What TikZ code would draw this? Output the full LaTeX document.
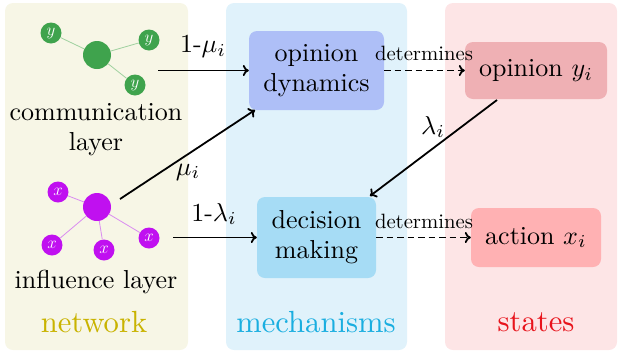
\RequirePackage{fix-cm}
\documentclass[tikz,border=0pt]{standalone}
\usetikzlibrary{arrows.meta}
\definecolor{netbg}{HTML}{F7F6E6}
\definecolor{mechbg}{HTML}{E0F2FB}
\definecolor{statebg}{HTML}{FDE5E6}
\definecolor{odyn}{HTML}{AEBFF7}
\definecolor{dmak}{HTML}{A6DCF5}
\definecolor{opin}{HTML}{EFB0B4}
\definecolor{actn}{HTML}{FFB1B3}
\definecolor{grn}{HTML}{3FA34D}
\definecolor{grnl}{HTML}{9FD19F}
\definecolor{mag}{HTML}{C010F0}
\definecolor{magl}{HTML}{DA8CF0}
\definecolor{nettxt}{HTML}{C9B300}
\definecolor{mechtxt}{HTML}{1AAEE0}
\definecolor{statetxt}{HTML}{E8141C}
\begin{document}
\begin{tikzpicture}[x=1pt,y=-1pt,
  panel/.style={rounded corners=8pt},
  box/.style={rounded corners=8pt, inner sep=0pt},
  txt/.style={align=center, inner sep=0pt, font=\fontsize{10}{11.5}\selectfont, scale=2.6, transform shape},
  title/.style={inner sep=0pt, font=\fontsize{10}{12}\selectfont, scale=3.06, transform shape},
  small/.style={inner sep=0pt, font=\fontsize{10}{12}\selectfont, scale=2.07, transform shape},
  arr/.style={line width=1.8pt, -{To[length=6pt,width=11pt]}},
  darr/.style={arr, dash pattern=on 6.5pt off 4pt},
  hub/.style={circle, minimum size=28pt, inner sep=0pt},
  leaf/.style={circle, minimum size=21pt, inner sep=0pt, text=white, font=\fontsize{17}{19}\selectfont},
]
\useasboundingbox (0,0) rectangle (621,354);
% panels
\fill[netbg, panel] (5,3) rectangle (188,350);
\fill[mechbg, panel] (226,3) rectangle (407,350);
\fill[statebg, panel] (445,3) rectangle (617,350);
% communication layer
\node[hub, fill=grn] (g) at (97,55) {};
\node[leaf, fill=grn] (g1) at (51,33) {$y$};
\node[leaf, fill=grn] (g2) at (149,40) {$y$};
\node[leaf, fill=grn] (g3) at (135,85) {$y$};
\draw[grnl, line width=0.8pt] (g) -- (g1) (g) -- (g2) (g) -- (g3);
\node[txt] (comm) at (96,130) {communication\\layer};
% influence layer
\node[hub, fill=mag] (m) at (97,207) {};
\node[leaf, fill=mag] (m1) at (58,192) {$x$};
\node[leaf, fill=mag] (m2) at (52,245) {$x$};
\node[leaf, fill=mag] (m3) at (104,250) {$x$};
\node[leaf, fill=mag] (m4) at (149,238) {$x$};
\draw[magl, line width=0.8pt] (m) -- (m1) (m) -- (m2) (m) -- (m3) (m) -- (m4);
\node[txt] (infl) at (96,282) {influence layer};
% titles
\node[title, text=nettxt] (tnet) at (94,322) {network};
\node[title, text=mechtxt] (tmech) at (316,322) {mechanisms};
\node[title, text=statetxt] (tstate) at (536,322) {states};
% boxes
\node[box, fill=odyn, minimum width=135pt, minimum height=79pt] (od) at (316.5,70.5) {};
\node[txt] (odt) at (od.center) {opinion\\dynamics};
\node[box, fill=dmak, minimum width=119pt, minimum height=81pt] (dm) at (316.5,237.5) {};
\node[txt] (dmt) at (dm.center) {decision\\making};
\node[box, fill=opin, minimum width=142pt, minimum height=57pt] (oy) at (536,70.5) {};
\node[txt] (oyt) at (oy.center) {opinion $y_i$};
\node[box, fill=actn, minimum width=130pt, minimum height=59pt] (ax) at (536,237.5) {};
\node[txt] (axt) at (ax.center) {action $x_i$};
% arrows
\coordinate (s1) at (158,70.5);
\draw[arr] (s1) -- (od.west);
\node[txt] (l1) at (203,46) {1-$\mu_i$};
\coordinate (s2) at (120,199);
\coordinate (e2) at (255,110);
\draw[arr] (s2) -- (e2);
\node[txt] (l2) at (188,172) {$\mu_i$};
\coordinate (s3) at (173,237.5);
\draw[arr] (s3) -- (dm.west);
\node[txt] (l3) at (214,214) {1-$\lambda_i$};
\draw[darr] (od.east) -- (oy.west);
\node[small] (d1) at (424,53) {determines};
\draw[darr] (dm.east) -- (ax.west);
\node[small] (d2) at (424,221) {determines};
\coordinate (s4) at (497,100);
\coordinate (e4) at (370,196);
\draw[arr] (s4) -- (e4);
\node[txt] (l4) at (433,127) {$\lambda_i$};
\end{tikzpicture}
\end{document}
